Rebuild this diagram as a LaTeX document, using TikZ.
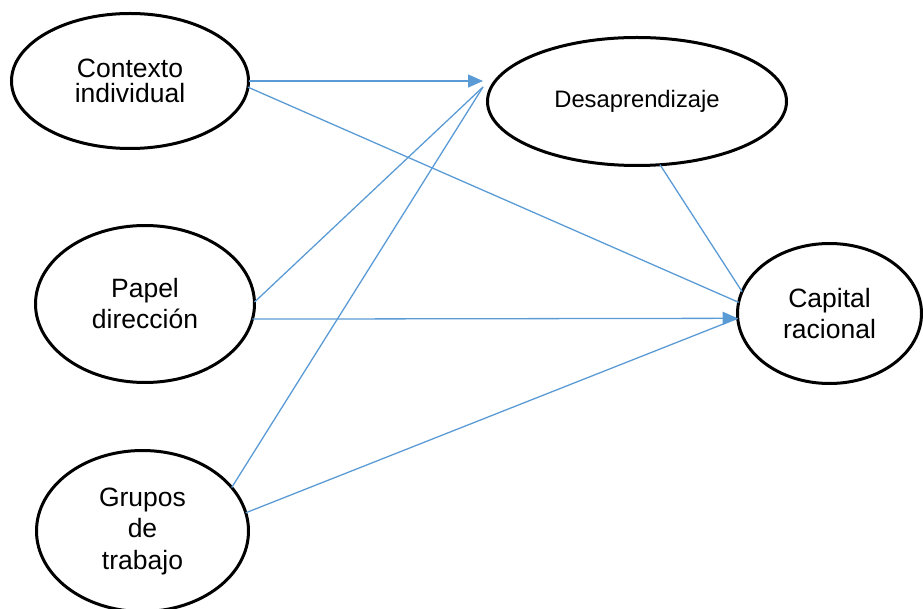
\documentclass[tikz,border=0pt]{standalone}
\usepackage{fontspec}
\setmainfont{Liberation Sans}
\usetikzlibrary{arrows.meta,shapes.geometric,calc}
\definecolor{lineblue}{HTML}{5B9BD5}
\begin{document}
\begin{tikzpicture}[x=1pt,y=-1pt,
  oval/.style={ellipse,draw=black,line width=3pt,inner sep=0pt,outer sep=0pt,align=center,font=\fontsize{26.5}{31}\selectfont},
  link/.style={draw=lineblue,line width=1.3pt},
  arr/.style={link,-{Triangle[length=15pt,width=13pt]}}]
\useasboundingbox (0,0) rectangle (923,609);
\node[oval,minimum width=237pt,minimum height=135pt,font=\fontsize{26.5}{25}\selectfont] (ctx) at (130,81) {Contexto\\individual};
\node[oval,minimum width=219pt,minimum height=157pt] (pap) at (145,304) {Papel\\dirección};
\node[oval,minimum width=212pt,minimum height=161pt,font=\fontsize{26.5}{31.5}\selectfont] (grp) at (142.5,531) {Grupos\\de\\trabajo};
\node[oval,minimum width=299pt,minimum height=128pt,font=\fontsize{23.8}{28}\selectfont] (des) at (637,101.5) {Desaprendizaje};
\node[oval,minimum width=184pt,minimum height=140pt] (cap) at (829.5,313.5) {Capital\\racional};
\coordinate (dIn) at ($(des.west)+(-4.5,-14.5)$);
% connectors
\draw[arr] (ctx.east) -- (ctx.east -| dIn);
\draw[link] (ctx.-3) -- (cap.173);
\draw[link] (pap.1) -- (dIn);
\draw[link] (grp.26) -- (dIn);
\draw[link] (des.-70) -- (cap.166);
\draw[arr] (pap.-8) -- (cap.183);
\draw[link] (grp.10) -- (cap.183);
\end{tikzpicture}
\end{document}
